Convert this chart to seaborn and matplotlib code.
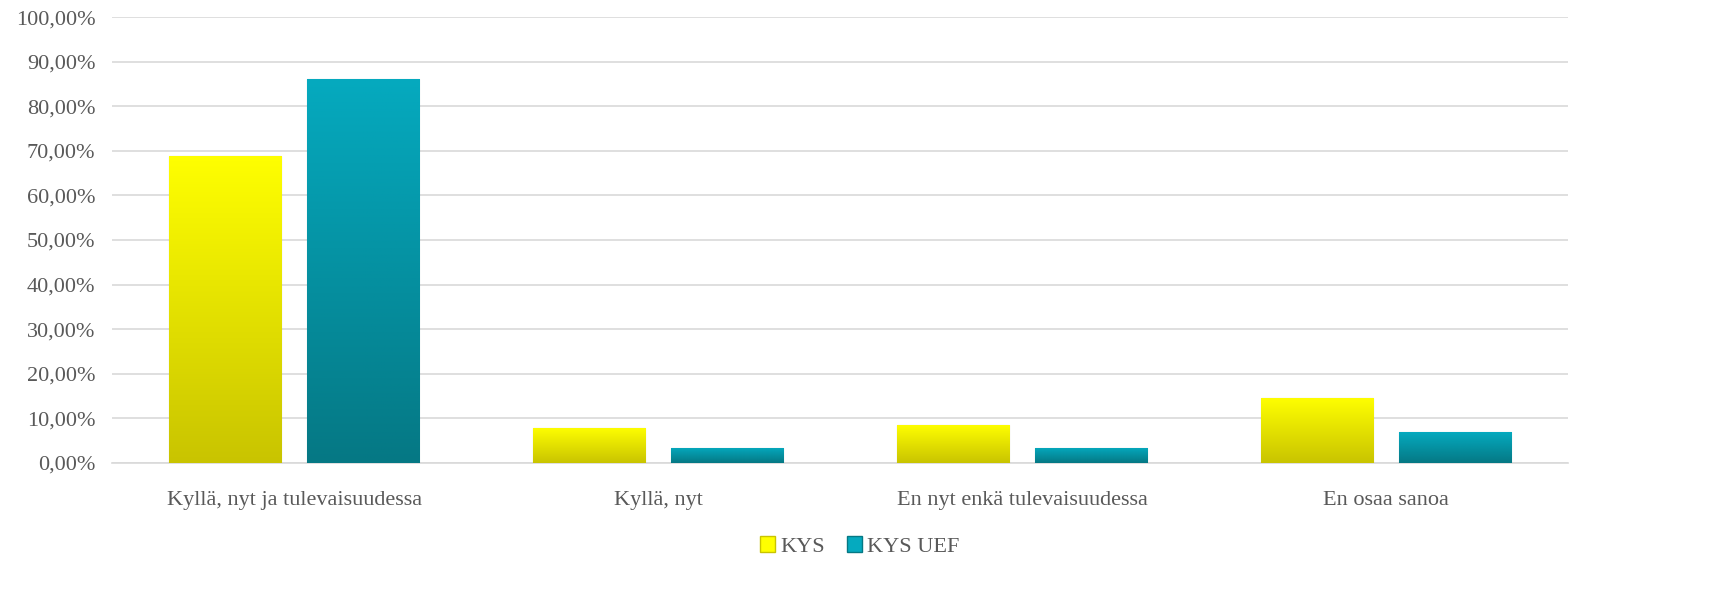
import numpy as np
import pandas as pd
import matplotlib
matplotlib.use("Agg")
import matplotlib.pyplot as plt
import matplotlib.colors as mcolors
from matplotlib.ticker import FuncFormatter, MultipleLocator
from matplotlib.patches import Patch
import seaborn as sns

# values (fraction of respondents)
categories = ["Kyllä, nyt ja tulevaisuudessa", "Kyllä, nyt", "En nyt enkä tulevaisuudessa", "En osaa sanoa"]
kys = [0.689, 0.079, 0.086, 0.146]
kys_uef = [0.862, 0.0345, 0.0345, 0.069]
series = ["KYS", "KYS UEF"]

df = pd.DataFrame({
    "kategoria": categories * 2,
    "osuus": kys + kys_uef,
    "ryhma": [series[0]] * len(categories) + [series[1]] * len(categories),
})

# gradient top -> bottom for each series
grad = {
    "KYS": ("#ffff00", "#c9c400"),
    "KYS UEF": ("#05aabf", "#057884"),
}

sns.set_theme(style="white")
plt.rcParams["font.family"] = ["Liberation Serif", "DejaVu Serif"]
txt = "#595959"
fs = 16

fig = plt.figure(figsize=(17.19, 6.09), dpi=100)
ax = fig.add_axes([0.0652, 0.2397, 0.847, 0.7323])

sns.barplot(data=df, x="kategoria", y="osuus", hue="ryhma", order=categories,
            hue_order=series, palette=[grad[s][0] for s in series],
            width=0.758, gap=0.188, ax=ax, legend=False, zorder=3)

# paint gradients into the bars
n = len(categories)
for i, bar in enumerate(ax.patches[:2 * n]):
    s = series[i // n]
    cmap = mcolors.LinearSegmentedColormap.from_list(s, [grad[s][1], grad[s][0]])
    x0, y0 = bar.get_x(), bar.get_y()
    w, h = bar.get_width(), bar.get_height()
    img = ax.imshow(np.linspace(0, 1, 256).reshape(-1, 1), cmap=cmap, origin="lower",
                    extent=[x0, x0 + w, y0, y0 + h], aspect="auto", zorder=3.5)
    img.set_clip_path(bar)
    bar.set_edgecolor(mcolors.to_rgba("#555500" if s == "KYS" else "#034a52", 0.5))
    bar.set_linewidth(0.8)
ax.set_aspect("auto")
ax.set_xlim(-0.5, len(categories) - 0.5)
ax.set_ylim(0, 1.0)

ax.yaxis.set_major_locator(MultipleLocator(0.1))
ax.yaxis.set_major_formatter(FuncFormatter(lambda v, p: f"{v * 100:.2f}".replace(".", ",") + "%"))
ax.grid(axis="y", color="#d9d9d9", linewidth=1.2, zorder=0)
ax.set_axisbelow(True)
sns.despine(ax=ax, left=True, bottom=True)
ax.spines["bottom"].set_visible(True)
ax.spines["bottom"].set_color("#d9d9d9")
ax.spines["bottom"].set_linewidth(1.2)

ax.tick_params(axis="both", length=0, labelsize=fs, colors=txt)
ax.tick_params(axis="y", pad=12)
ax.tick_params(axis="x", pad=20)
ax.set_xlabel("")
ax.set_ylabel("")

handles = [Patch(facecolor=grad[s][0], edgecolor=grad[s][1]) for s in series]
fig.legend(handles, series, loc="center", bbox_to_anchor=(0.5, 0.103), ncol=2,
           frameon=False, fontsize=fs, labelcolor=txt, handlelength=0.7,
           handleheight=0.7, handletextpad=0.2, columnspacing=1.0)

fig.savefig("out.png", dpi=100)
